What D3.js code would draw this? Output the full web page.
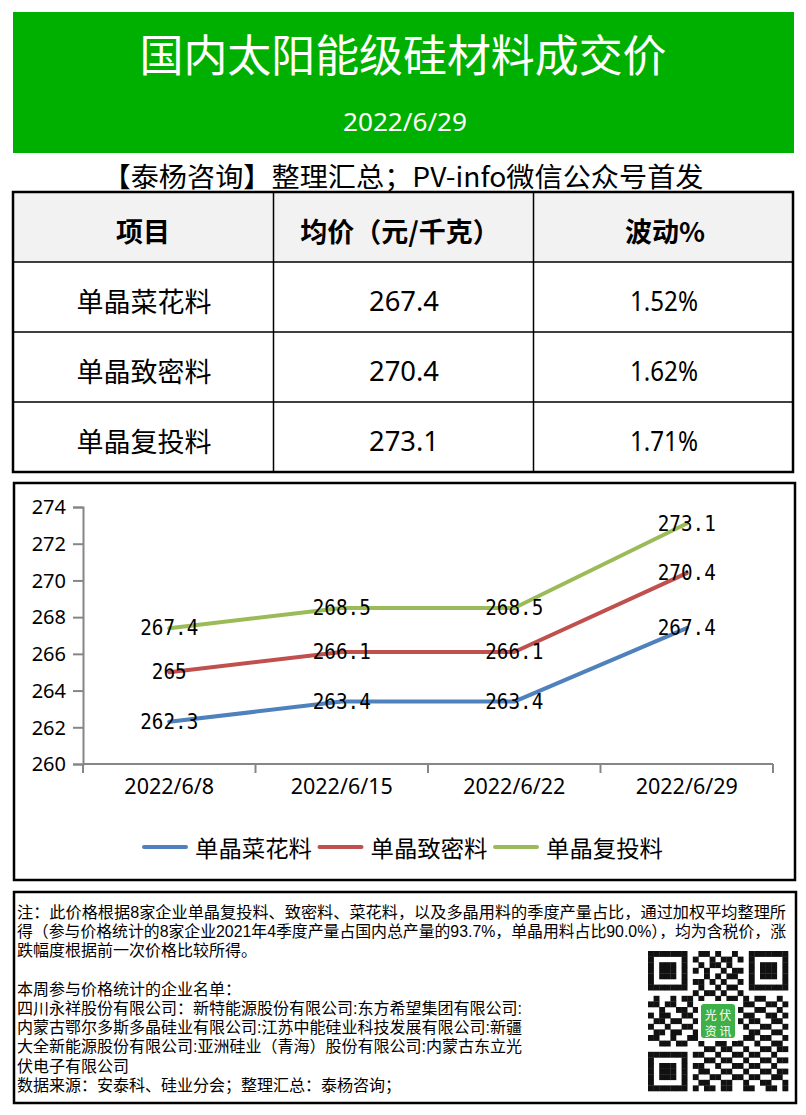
<!DOCTYPE html>
<html>
<head>
<meta charset="utf-8">
<script src="https://cdn.jsdelivr.net/npm/d3@7"></script>
<style>
  html, body { margin: 0; padding: 0; background: #fff; }
  svg { display: block; }
</style>
</head>
<body>
<div id="chart"></div>
<script>
// ---------- data ----------
const dates = ["2022/6/8", "2022/6/15", "2022/6/22", "2022/6/29"];
const seriesNames = ["单晶菜花料", "单晶致密料", "单晶复投料"];
const cauliflowerPrices = [262.3, 263.4, 263.4, 267.4];
const densePrices = [265, 266.1, 266.1, 270.4];
const rechargePrices = [267.4, 268.5, 268.5, 273.1];
const seriesColors = ["#4F81BD", "#C0504D", "#9BBB59"];
const yTickValues = [260, 262, 264, 266, 268, 270, 272, 274];

const titleText = "国内太阳能级硅材料成交价";
const dateText = "2022/6/29";
const subtitleText = "【泰杨咨询】整理汇总；PV-info微信公众号首发";

const tableHeaders = ["项目", "均价（元/千克）", "波动%"];
const tableItems = ["单晶菜花料", "单晶致密料", "单晶复投料"];
const tablePrices = ["267.4", "270.4", "273.1"];
const tableChanges = ["1.52%", "1.62%", "1.71%"];

const noteLines = [
  "注：此价格根据8家企业单晶复投料、致密料、菜花料，以及多晶用料的季度产量占比，通过加权平均整理所",
  "得（参与价格统计的8家企业2021年4季度产量占国内总产量的93.7%，单晶用料占比90.0%），均为含税价，涨",
  "跌幅度根据前一次价格比较所得。",
  "",
  "本周参与价格统计的企业名单：",
  "四川永祥股份有限公司：新特能源股份有限公司:东方希望集团有限公司:",
  "内蒙古鄂尔多斯多晶硅业有限公司:江苏中能硅业科技发展有限公司:新疆",
  "大全新能源股份有限公司:亚洲硅业（青海）股份有限公司:内蒙古东立光",
  "伏电子有限公司",
  "数据来源：安泰科、硅业分会；整理汇总：泰杨咨询；"
];

const qrRows = [
  "0110100101101001011010110",
  "1001011010010110100101001",
  "0101101001011010010110100",
  "1010010110100101101001011",
  "0110110100101011010100110",
  "1101001011010100101011001",
  "0010110101001011010110100",
  "1011010010110100101001011",
  "0100101101001011010110010",
  "1101100100110110011001101",
  "0010011011001001100110010",
  "1011001101100110011001101",
  "0110110010011001101100110",
  "1001001101100110010011001",
  "0110110010011011001100110",
  "1100100110110010011011001",
  "0011011001001101100100110",
  "1101001100110110010011011",
  "0010110011001001101100100",
  "1011001100110110010011011",
  "0100110011001001101100100",
  "1011001101100110010011011",
  "0110110010011001101100110",
  "1001001101100110010011001",
  "0110110010110110011001101"
];

// ---------- setup ----------
const W = 806, H = 1115;
const CJK = "'Noto Sans CJK SC', 'Noto Sans', sans-serif";
const NOTE = "'Liberation Sans', 'Noto Sans CJK SC', sans-serif";
const NUM = "'Noto Sans', 'DejaVu Sans', sans-serif";
const MONO = "'DejaVu Sans Mono', 'Liberation Mono', monospace";

const svg = d3.select("#chart").append("svg")
  .attr("width", W).attr("height", H)
  .attr("viewBox", `0 0 ${W} ${H}`);

svg.append("rect").attr("width", W).attr("height", H).attr("fill", "#fff");

// ---------- header ----------
svg.append("rect").attr("x", 13).attr("y", 12).attr("width", 781).attr("height", 141)
  .attr("fill", "#00B000");
svg.append("text").attr("x", 403).attr("y", 53)
  .attr("text-anchor", "middle").attr("dominant-baseline", "central")
  .attr("font-family", CJK).attr("font-size", 44).attr("fill", "#fff")
  .attr("textLength", 527).attr("lengthAdjust", "spacingAndGlyphs")
  .text(titleText);
svg.append("text").attr("x", 405).attr("y", 121)
  .attr("text-anchor", "middle").attr("dominant-baseline", "central")
  .attr("font-family", NUM).attr("font-size", 25).attr("fill", "#fff")
  .attr("textLength", 124).attr("lengthAdjust", "spacingAndGlyphs")
  .text(dateText);
svg.append("text").attr("x", 403).attr("y", 175)
  .attr("text-anchor", "middle").attr("dominant-baseline", "central")
  .attr("font-family", CJK).attr("font-size", 27).attr("fill", "#000")
  .attr("textLength", 601).attr("lengthAdjust", "spacingAndGlyphs")
  .text(subtitleText);

// ---------- table ----------
const tX = [13, 273.5, 533.5, 793];
const tY = [192, 262, 332, 402, 472];
const table = svg.append("g");
table.append("rect").attr("x", tX[0]).attr("y", tY[0])
  .attr("width", tX[3] - tX[0]).attr("height", tY[1] - tY[0]).attr("fill", "#F2F2F2");
tY.slice(1, 4).forEach(y => table.append("line")
  .attr("x1", tX[0]).attr("x2", tX[3]).attr("y1", y).attr("y2", y)
  .attr("stroke", "#000").attr("stroke-width", 1.5));
tX.slice(1, 3).forEach(x => table.append("line")
  .attr("x1", x).attr("x2", x).attr("y1", tY[0]).attr("y2", tY[4])
  .attr("stroke", "#000").attr("stroke-width", 1.5));
table.append("rect").attr("x", tX[0]).attr("y", tY[0])
  .attr("width", tX[3] - tX[0]).attr("height", tY[4] - tY[0])
  .attr("fill", "none").attr("stroke", "#000").attr("stroke-width", 2.5);

const colCenters = [143, 400, 665];
tableHeaders.forEach((h, i) => {
  table.append("text").attr("x", colCenters[i]).attr("y", (tY[0] + tY[1]) / 2 + 3)
    .attr("text-anchor", "middle").attr("dominant-baseline", "central")
    .attr("font-family", CJK).attr("font-size", 27).attr("font-weight", "bold")
    .attr("fill", "#000").text(h);
});
tableItems.forEach((item, r) => {
  const cy = (tY[r + 1] + tY[r + 2]) / 2 + 3;
  table.append("text").attr("x", 144).attr("y", cy)
    .attr("text-anchor", "middle").attr("dominant-baseline", "central")
    .attr("font-family", CJK).attr("font-size", 27).attr("fill", "#000").text(item);
  table.append("text").attr("x", 404).attr("y", cy)
    .attr("text-anchor", "middle").attr("dominant-baseline", "central")
    .attr("font-family", NUM).attr("font-size", 27).attr("fill", "#000")
    .attr("textLength", 70).attr("lengthAdjust", "spacingAndGlyphs")
    .text(tablePrices[r]);
  table.append("text").attr("x", 664).attr("y", cy)
    .attr("text-anchor", "middle").attr("dominant-baseline", "central")
    .attr("font-family", NUM).attr("font-size", 27).attr("fill", "#000")
    .attr("textLength", 68).attr("lengthAdjust", "spacingAndGlyphs")
    .text(tableChanges[r]);
});

// ---------- chart ----------
svg.append("rect").attr("x", 14).attr("y", 483).attr("width", 781).attr("height", 397)
  .attr("fill", "#fff").attr("stroke", "#000").attr("stroke-width", 2.5);

const plot = { left: 83, right: 773, top: 507, bottom: 764 };
const x = d3.scaleBand().domain(dates).range([plot.left, plot.right]).padding(0);
const y = d3.scaleLinear().domain([260, 274]).range([plot.bottom, plot.top]);
const AXIS = "#868686";

const yAxis = svg.append("g").attr("transform", `translate(${plot.left},0)`)
  .call(d3.axisLeft(y).tickValues(yTickValues).tickSize(10).tickPadding(7).tickFormat(d3.format("d")));
yAxis.select(".domain").attr("stroke", AXIS).attr("stroke-width", 2);
yAxis.selectAll(".tick line").attr("stroke", AXIS).attr("stroke-width", 2);
yAxis.selectAll(".tick text").attr("font-family", NUM).attr("font-size", 20).attr("fill", "#000")
  .attr("dy", "0.34em");

const xAxis = svg.append("g").attr("transform", `translate(0,${plot.bottom})`)
  .call(d3.axisBottom(x).tickSize(0).tickPadding(22));
xAxis.select(".domain").remove();
xAxis.selectAll(".tick text").attr("font-family", NUM).attr("font-size", 21.5).attr("fill", "#000")
  .attr("dy", "0.35em");
const boundaries = dates.map(d => x(d)).concat([x(dates[dates.length - 1]) + x.bandwidth()]);
svg.append("line").attr("x1", plot.left).attr("x2", plot.right)
  .attr("y1", plot.bottom).attr("y2", plot.bottom).attr("stroke", AXIS).attr("stroke-width", 2);
svg.selectAll(".xb").data(boundaries).enter().append("line")
  .attr("x1", d => d).attr("x2", d => d)
  .attr("y1", plot.bottom).attr("y2", plot.bottom + 9)
  .attr("stroke", AXIS).attr("stroke-width", 2);

const series = [cauliflowerPrices, densePrices, rechargePrices].map((vals, i) => ({
  name: seriesNames[i], color: seriesColors[i],
  points: vals.map((v, j) => ({ date: dates[j], value: v }))
}));
const cx = d => x(d.date) + x.bandwidth() / 2;
const line = d3.line().x(cx).y(d => y(d.value));

svg.selectAll(".series").data(series).enter().append("path")
  .attr("d", s => line(s.points))
  .attr("fill", "none").attr("stroke", s => s.color).attr("stroke-width", 4)
  .attr("stroke-linejoin", "round").attr("stroke-linecap", "round");

series.forEach(s => {
  svg.selectAll(null).data(s.points).enter().append("text")
    .attr("x", cx).attr("y", d => y(d.value))
    .attr("text-anchor", "middle").attr("dominant-baseline", "central")
    .attr("font-family", MONO).attr("font-size", 21).attr("fill", "#000")
    .attr("textLength", d => String(d.value).length * 11.6)
    .attr("lengthAdjust", "spacingAndGlyphs")
    .text(d => String(d.value));
});

const legend = svg.append("g").attr("transform", "translate(144,847)");
series.forEach((s, i) => {
  const g = legend.append("g").attr("transform", `translate(${i * 175.5},0)`);
  g.append("line").attr("x1", 0).attr("x2", 42).attr("y1", 0).attr("y2", 0)
    .attr("stroke", s.color).attr("stroke-width", 4).attr("stroke-linecap", "round");
  g.append("text").attr("x", 51).attr("y", 0).attr("dominant-baseline", "central")
    .attr("font-family", CJK).attr("font-size", 23).attr("fill", "#000")
    .attr("textLength", 117).attr("lengthAdjust", "spacingAndGlyphs")
    .text(s.name);
});

// ---------- footnote ----------
svg.append("rect").attr("x", 14).attr("y", 892).attr("width", 782).attr("height", 211)
  .attr("fill", "#fff").attr("stroke", "#000").attr("stroke-width", 2.5);
noteLines.forEach((t, i) => {
  if (!t) return;
  const tx = svg.append("text").attr("x", 17).attr("y", 912.5 + i * 19.2)
    .attr("dominant-baseline", "central")
    .attr("font-family", NOTE).attr("font-size", 16).attr("fill", "#000").text(t);
  if (i < 2) tx.attr("textLength", 769).attr("lengthAdjust", "spacingAndGlyphs");
});

// QR-like code
const qr = svg.append("g").attr("transform", "translate(648,951)");
const n = qrRows.length, m = 5.6;
const inFinder = (r, c) => (r < 8 && c < 8) || (r < 8 && c >= n - 8) || (r >= n - 8 && c < 8);
const finderBit = (r, c) => {
  const rr = r >= n - 8 ? r - (n - 7) : r;
  const cc = c >= n - 8 ? c - (n - 7) : c;
  if (rr < 0 || cc < 0 || rr > 6 || cc > 6) return 0;
  if (rr === 0 || rr === 6 || cc === 0 || cc === 6) return 1;
  if (rr >= 2 && rr <= 4 && cc >= 2 && cc <= 4) return 1;
  return 0;
};
const cells = [];
qrRows.forEach((row, r) => row.split("").forEach((b, c) => {
  const bit = inFinder(r, c) ? finderBit(r, c) : +b;
  if (bit) cells.push({ r, c });
}));
qr.selectAll("rect").data(cells).enter().append("rect")
  .attr("x", d => d.c * m).attr("y", d => d.r * m)
  .attr("width", m + 0.3).attr("height", m + 0.3).attr("fill", "#111");
qr.append("rect").attr("x", 50).attr("y", 50).attr("width", 40).attr("height", 40).attr("fill", "#fff");
qr.append("rect").attr("x", 53).attr("y", 53).attr("width", 34).attr("height", 34).attr("rx", 3)
  .attr("fill", "#3DB049");
qr.append("text").attr("x", 70).attr("y", 63).attr("text-anchor", "middle").attr("dominant-baseline", "central")
  .attr("font-family", CJK).attr("font-size", 12).attr("fill", "#fff").text("光 伏");
qr.append("text").attr("x", 70).attr("y", 79).attr("text-anchor", "middle").attr("dominant-baseline", "central")
  .attr("font-family", CJK).attr("font-size", 12).attr("fill", "#fff").text("资 讯");
</script>
</body>
</html>
